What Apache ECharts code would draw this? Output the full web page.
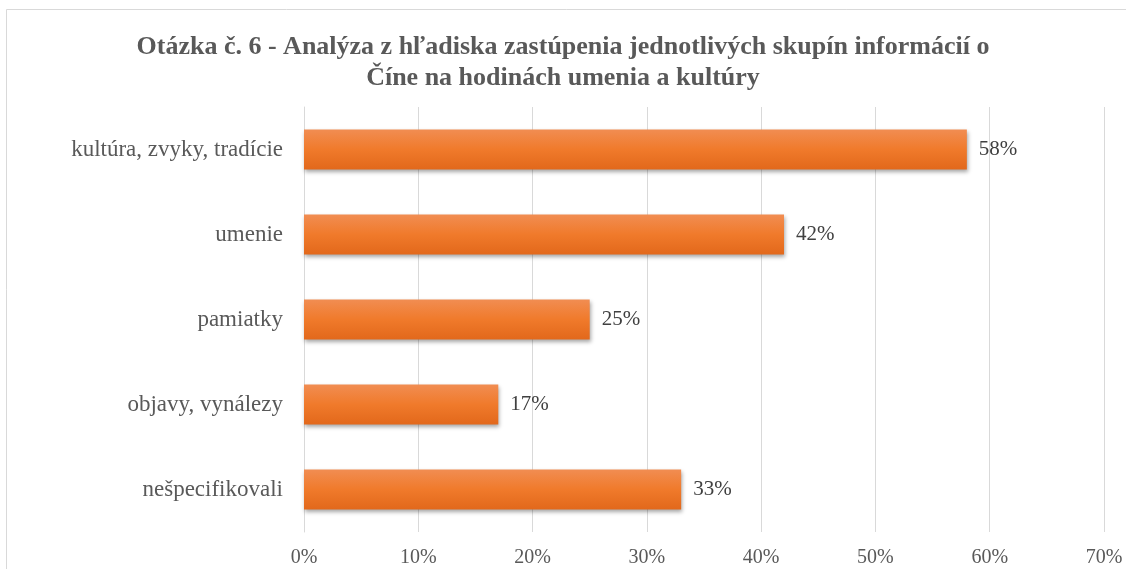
<!DOCTYPE html>
<html><head><meta charset="utf-8">
<script src="https://cdn.jsdelivr.net/npm/echarts@6/dist/echarts.min.js"></script>
<style>html,body{margin:0;padding:0;background:#fff}#c{width:1126px;height:569px}</style>
</head><body><div id="c"></div>
<script>
const titleText = 'Otázka č. 6 - Analýza z hľadiska zastúpenia jednotlivých skupín informácií o\nČíne na hodinách umenia a kultúry';
const categories = ['kultúra, zvyky, tradície', 'umenie', 'pamiatky', 'objavy, vynálezy', 'nešpecifikovali'];
const values = [58, 42, 25, 17, 33];
const xTicks = [0, 10, 20, 30, 40, 50, 60, 70];

const font = '"Liberation Serif", "Times New Roman", serif';
const chart = echarts.init(document.getElementById('c'), null, {renderer: 'canvas'});
chart.setOption({
  animation: false,
  backgroundColor: '#fff',
  graphic: [{type: 'rect', shape: {x: 6.5, y: 9.5, width: 1140, height: 600},
    style: {fill: 'none', stroke: '#d9d9d9', lineWidth: 1}, silent: true}],
  title: {text: titleText, left: 'center', top: 27,
    textStyle: {fontFamily: font, fontSize: 26, fontWeight: 'bold', color: '#595959', lineHeight: 31}},
  grid: {left: 304, right: 22, top: 107, bottom: 37, containLabel: false},
  xAxis: {type: 'value', min: xTicks[0], max: xTicks[xTicks.length - 1], interval: 10,
    axisLine: {show: false}, axisTick: {show: false},
    splitLine: {lineStyle: {color: '#d9d9d9', width: 1}},
    axisLabel: {formatter: v => v + '%', fontFamily: font, fontSize: 20, color: '#595959', margin: 16}},
  yAxis: {type: 'category', data: categories, inverse: true,
    axisLine: {show: true, lineStyle: {color: '#d9d9d9'}}, axisTick: {show: false},
    axisLabel: {fontFamily: font, fontSize: 23, color: '#595959', margin: 21}},
  series: [{type: 'bar', data: values, barWidth: 40,
    itemStyle: {
      color: new echarts.graphic.LinearGradient(0, 0, 0, 1, [
        {offset: 0, color: '#f18d52'}, {offset: 0.5, color: '#f07a2b'}, {offset: 1, color: '#e2681b'}]),
      shadowColor: 'rgba(0,0,0,0.35)', shadowBlur: 4, shadowOffsetX: 1, shadowOffsetY: 2},
    label: {show: true, position: 'right', distance: 12, formatter: p => p.value + '%',
      fontFamily: font, fontSize: 21, color: '#404040'}}]
});
</script></body></html>
